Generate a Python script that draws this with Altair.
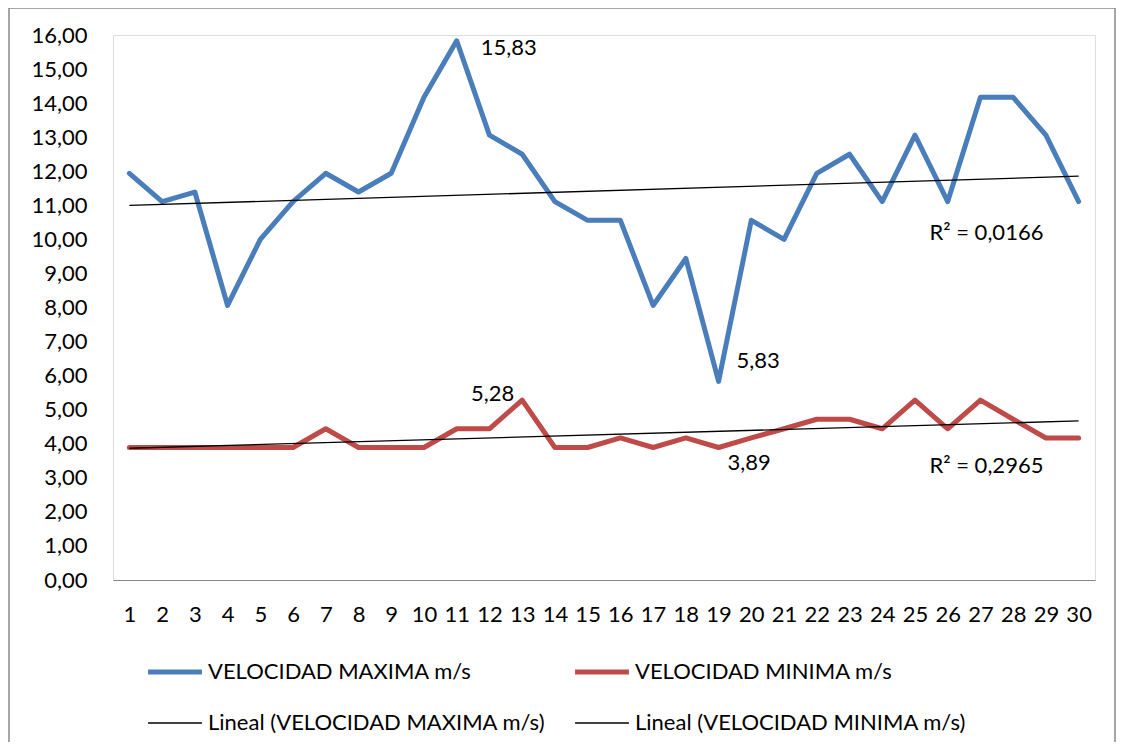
import altair as alt
import pandas as pd

days = list(range(1, 31))
vel_max = [11.94, 11.11, 11.39, 8.06, 10.00, 11.11, 11.94, 11.39, 11.94, 14.17,
           15.83, 13.06, 12.50, 11.11, 10.56, 10.56, 8.06, 9.44, 5.83, 10.56,
           10.00, 11.94, 12.50, 11.11, 13.06, 11.11, 14.17, 14.17, 13.06, 11.11]
vel_min = [3.89, 3.89, 3.89, 3.89, 3.89, 3.89, 4.44, 3.89, 3.89, 3.89,
           4.44, 4.44, 5.28, 3.89, 3.89, 4.17, 3.89, 4.17, 3.89, 4.17,
           4.44, 4.72, 4.72, 4.44, 5.28, 4.44, 5.28, 4.72, 4.17, 4.17]
series_names = ["VELOCIDAD MAXIMA m/s", "VELOCIDAD MINIMA m/s"]
trend_names = ["Lineal (VELOCIDAD MAXIMA m/s)", "Lineal (VELOCIDAD MINIMA m/s)"]
y_ticks = list(range(0, 17))

label_days = [11, 19, 13, 19]
label_vals = [15.83, 5.83, 5.28, 3.89]
r2_texts = ["R² = 0,0166", "R² = 0,2965"]
r2_days = [27, 27]
r2_vals = [10.2, 3.35]

FONT = "Lato"
FS = 22
BLUE = "#4A7EBB"
RED = "#BE4B48"

df = pd.DataFrame({
    "day": days * 2,
    "value": vel_max + vel_min,
    "serie": [series_names[0]] * len(days) + [series_names[1]] * len(days),
})
lab = pd.DataFrame({
    "day": label_days,
    "value": label_vals,
    "txt": [f"{v:.2f}".replace(".", ",") for v in label_vals],
    "idx": list(range(len(label_days))),
})
r2 = pd.DataFrame({"day": r2_days, "value": r2_vals, "txt": r2_texts})

# column-major legend layout: col1 = MAX, Lineal MAX ; col2 = MIN, Lineal MIN
domain = [series_names[0], trend_names[0], series_names[1], trend_names[1]]
color = alt.Color(
    "serie:N",
    scale=alt.Scale(domain=domain, range=[BLUE, "#000000", RED, "#000000"]),
    legend=alt.Legend(
        title=None, orient="none", legendX=51, legendY=626, columns=2,
        symbolType="stroke", symbolSize=2900, labelFont=FONT, labelFontSize=FS,
        labelColor="#000000", labelOffset=22, rowPadding=29, columnPadding=19,
        symbolOffset=0, labelLimit=0,
        symbolStrokeWidth=alt.ExprRef("test(/^Lineal/, datum.value) ? 1.3 : 5"),
    ),
)

x = alt.X("day:Q", scale=alt.Scale(domain=[0.5, 30.5], nice=False, zero=False),
          axis=alt.Axis(values=days, title=None, ticks=False, grid=False,
                        domainColor="#868686", domainWidth=1.2,
                        labelFont=FONT, labelFontSize=FS, labelColor="#000000",
                        labelPadding=24, labelFlush=False, labelOverlap=False,
                        labelBound=False, format="d"))
y = alt.Y("value:Q", scale=alt.Scale(domain=[0, 16], nice=False),
          axis=alt.Axis(values=y_ticks, title=None, ticks=False, grid=False, domain=False,
                        labelFont=FONT, labelFontSize=FS, labelColor="#000000",
                        labelPadding=26, labelOverlap=False, labelBound=False,
                        labelExpr="replace(format(datum.value, '.2f'), '.', ',')"))

base = alt.Chart(df)
lines = base.mark_line(strokeJoin="round", strokeCap="round", strokeWidth=5).encode(
    x=x, y=y, color=color, detail="serie:N")

trend = base.transform_regression(
    "day", "value", groupby=["serie"]
).transform_calculate(
    serie="'Lineal (' + datum.serie + ')'"
).mark_line(strokeWidth=1.3).encode(x=x, y=y, color=color)

def lbl(i, align, dx, dy):
    return alt.Chart(lab).transform_filter(f"datum.idx == {i}").mark_text(
        align=align, baseline="middle", dx=dx, dy=dy, font=FONT, fontSize=FS,
        color="#000000").encode(x=x, y=y, text="txt:N")

labels = [lbl(0, "left", 24, 7), lbl(1, "left", 18, -20), lbl(2, "right", -8, -6),
          lbl(3, "left", 9, 16)]

r2_layer = alt.Chart(r2).mark_text(
    align="center", baseline="middle", font=FONT, fontSize=FS, color="#000000", dx=6
).encode(x=x, y=y, text="txt:N")

border = alt.Chart(pd.DataFrame({"a": [0]})).mark_rect(
    filled=False, stroke="#898989", strokeWidth=1.5
).encode(x=alt.value(-104), x2=alt.value(1002), y=alt.value(-27), y2=alt.value(740))

chart = alt.layer(border, lines, trend, *labels, r2_layer).properties(
    width=982, height=545,
    padding={"left": 105, "top": 27, "right": 21, "bottom": 162},
    autosize=alt.AutoSizeParams(type="none"),
).configure_view(stroke=None).configure_axis(labelOverlap=False).configure(background="white")

chart.save("out.html", embed_options={"renderer": "svg", "actions": False})
